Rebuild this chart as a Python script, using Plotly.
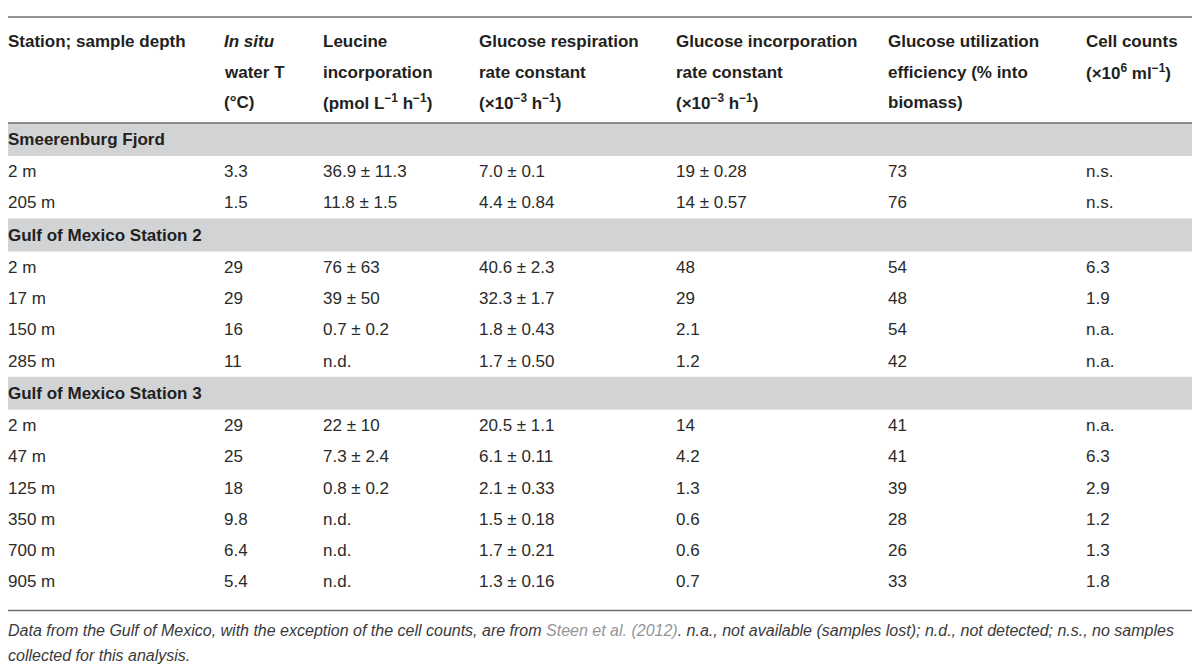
import plotly.graph_objects as go

# table content
header_lines = [
    ["Station; sample depth", "", ""],
    ["<i>In situ</i>", "water T", "(°C)"],
    ["Leucine", "incorporation", "(pmol L<sup>−1</sup> h<sup>−1</sup>)"],
    ["Glucose respiration", "rate constant", "(×10<sup>−3</sup> h<sup>−1</sup>)"],
    ["Glucose incorporation", "rate constant", "(×10<sup>−3</sup> h<sup>−1</sup>)"],
    ["Glucose utilization", "efficiency (% into", "biomass)"],
    ["Cell counts", "(×10<sup>6</sup> ml<sup>−1</sup>)", ""],
]
stations = ["Smeerenburg Fjord", "Gulf of Mexico Station 2", "Gulf of Mexico Station 3"]
station_of_row = [0, 0, 1, 1, 1, 1, 2, 2, 2, 2, 2, 2]
depth = ["2 m", "205 m", "2 m", "17 m", "150 m", "285 m",
         "2 m", "47 m", "125 m", "350 m", "700 m", "905 m"]
water_t = ["3.3", "1.5", "29", "29", "16", "11", "29", "25", "18", "9.8", "6.4", "5.4"]
leucine = ["36.9 ± 11.3", "11.8 ± 1.5", "76 ± 63", "39 ± 50", "0.7 ± 0.2", "n.d.",
           "22 ± 10", "7.3 ± 2.4", "0.8 ± 0.2", "n.d.", "n.d.", "n.d."]
glc_resp = ["7.0 ± 0.1", "4.4 ± 0.84", "40.6 ± 2.3", "32.3 ± 1.7", "1.8 ± 0.43", "1.7 ± 0.50",
            "20.5 ± 1.1", "6.1 ± 0.11", "2.1 ± 0.33", "1.5 ± 0.18", "1.7 ± 0.21", "1.3 ± 0.16"]
glc_incorp = ["19 ± 0.28", "14 ± 0.57", "48", "29", "2.1", "1.2",
              "14", "4.2", "1.3", "0.6", "0.6", "0.7"]
glc_eff = ["73", "76", "54", "48", "54", "42", "41", "41", "39", "28", "26", "33"]
cell_counts = ["n.s.", "n.s.", "6.3", "1.9", "n.a.", "n.a.",
               "n.a.", "6.3", "2.9", "1.2", "1.3", "1.8"]
footnote_lines = [
    "Data from the Gulf of Mexico, with the exception of the cell counts, are from "
    "<span style='color:#939598'>Steen et al. (2012)</span>. n.a., not available "
    "(samples lost); n.d., not detected; n.s., no samples",
    "collected for this analysis.",
]

columns = [depth, water_t, leucine, glc_resp, glc_incorp, glc_eff, cell_counts]

# layout (page pixels; the page body has an 8px margin)
PAGE_W, PAGE_H = 1200, 668
OFF = 8
col_x = [8, 224, 323, 479, 676, 888, 1086]
left, right = 6, 1193
top_rule = 17
head_y = [41, 72, 102]
head_rule = 123
band_h = 33
row_h = 31.3
foot_gap = [20, 45]

FONT = "Liberation Sans, Arial, sans-serif"
TXT = "#2b2b2b"
BAND = "#d1d3d4"
RULE = "#6d6e71"

fig = go.Figure()
shapes = []
annotations = []

def text(x, y, s, size=17, color=TXT, bold=False):
    if bold:
        s = "<b>" + s + "</b>"
    annotations.append(dict(
        x=x, y=y, xref="x", yref="y", text=s, showarrow=False,
        xanchor="left", yanchor="middle", align="left", xshift=-2,
        font=dict(family=FONT, size=size, color=color),
    ))

# header
shapes.append(dict(type="line", x0=left, x1=right, y0=top_rule, y1=top_rule,
                   line=dict(color=RULE, width=1.5)))
for cx, lines in zip(col_x, header_lines):
    for hy, s in zip(head_y, lines):
        if s:
            text(cx, hy, s, size=17, color="#231f20", bold=True)

# body
y = head_rule
prev = None
for i in range(len(depth)):
    st = station_of_row[i]
    if st != prev:
        shapes.append(dict(type="rect", x0=left, x1=right, y0=y, y1=y + band_h,
                           fillcolor=BAND, line=dict(width=0), layer="below"))
        text(col_x[0], y + band_h / 2, stations[st], size=17, color="#231f20", bold=True)
        y += band_h
        prev = st
    for cx, col in zip(col_x, columns):
        text(cx, y + row_h / 2, col[i], size=17)
    y += row_h

shapes.append(dict(type="line", x0=left, x1=right, y0=head_rule, y1=head_rule,
                   line=dict(color=RULE, width=1.5)))
bottom_rule = y + 13
shapes.append(dict(type="line", x0=left, x1=right, y0=bottom_rule, y1=bottom_rule,
                   line=dict(color=RULE, width=1.5)))

# footnote
for gap, line in zip(foot_gap, footnote_lines):
    text(col_x[0], bottom_rule + gap, "<i>" + line + "</i>", size=16, color="#3a3a3a")

fig.update_layout(
    width=PAGE_W - OFF, height=PAGE_H - OFF,
    margin=dict(l=0, r=0, t=0, b=0),
    paper_bgcolor="white", plot_bgcolor="white",
    xaxis=dict(range=[OFF, PAGE_W], visible=False, fixedrange=True),
    yaxis=dict(range=[PAGE_H, OFF], visible=False, fixedrange=True),
    shapes=shapes, annotations=annotations,
    showlegend=False,
)

fig.write_html("out.html", config={"displayModeBar": False})
